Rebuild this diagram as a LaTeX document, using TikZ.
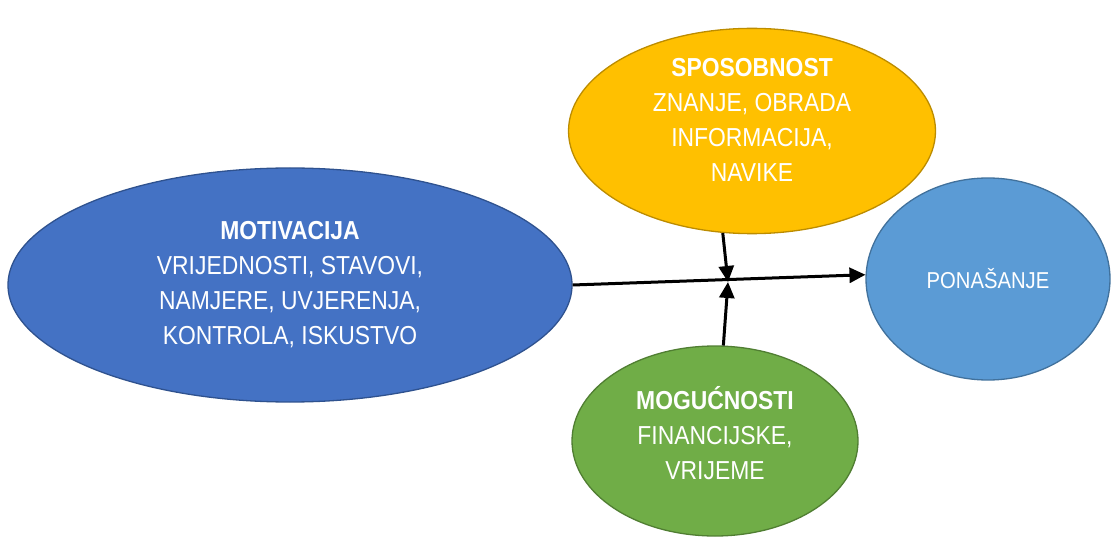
\documentclass[tikz,border=0pt]{standalone}
\usepackage{fontspec}
\setmainfont{Liberation Sans}[FakeStretch=0.88]
\usetikzlibrary{shapes.geometric,arrows.meta}

\definecolor{plava}{HTML}{4472C4}
\definecolor{plavarub}{HTML}{2F528F}
\definecolor{zuta}{HTML}{FFC000}
\definecolor{zutarub}{HTML}{BC8C00}
\definecolor{zelena}{HTML}{70AD47}
\definecolor{zelenarub}{HTML}{507E32}
\definecolor{svijetla}{HTML}{5B9BD5}
\definecolor{svijetlarub}{HTML}{41719C}

\begin{document}
\begin{tikzpicture}[x=1pt, y=-1pt, thick]
	% Stilovi za elipse i strelice
	\tikzset{elipsa/.style={ellipse, draw, line width=1.3pt, inner sep=0pt, align=center, text=white, font=\fontsize{26}{35}\selectfont},
		strelica/.style={line width=3pt, -{Triangle[length=16pt, width=15pt]}}}
	\useasboundingbox (0,0) rectangle (1111,537);
	
	% Elipse (cimbenici ponasanja)
	\node[elipsa, fill=plava, draw=plavarub, minimum width=564, minimum height=234] (motivacija) at (290,285) {\textbf{MOTIVACIJA}\\VRIJEDNOSTI, STAVOVI,\\NAMJERE, UVJERENJA,\\KONTROLA, ISKUSTVO};
	\node[elipsa, fill=zuta, draw=zutarub, minimum width=367, minimum height=204, text depth=22pt] (sposobnost) at (752,131) {\textbf{SPOSOBNOST}\\ZNANJE, OBRADA\\INFORMACIJA,\\NAVIKE};
	\node[elipsa, fill=zelena, draw=zelenarub, minimum width=286, minimum height=190, text depth=16pt] (mogucnosti) at (715,441) {\textbf{MOGUĆNOSTI}\\FINANCIJSKE,\\VRIJEME};
	\node[elipsa, fill=svijetla, draw=svijetlarub, minimum width=244, minimum height=202, font=\fontsize{23}{28}\selectfont] (ponasanje) at (988,279) {PONAŠANJE};
	
	% Spoj strelica
	\coordinate (spoj) at (728,282);
	
	% Strelice
	\draw[strelica] (motivacija.east) -- (ponasanje.178);
	\draw[strelica] (sposobnost.254) -- (spoj);
	\draw[strelica] (mogucnosti.85) -- (spoj);
\end{tikzpicture}
\end{document}
